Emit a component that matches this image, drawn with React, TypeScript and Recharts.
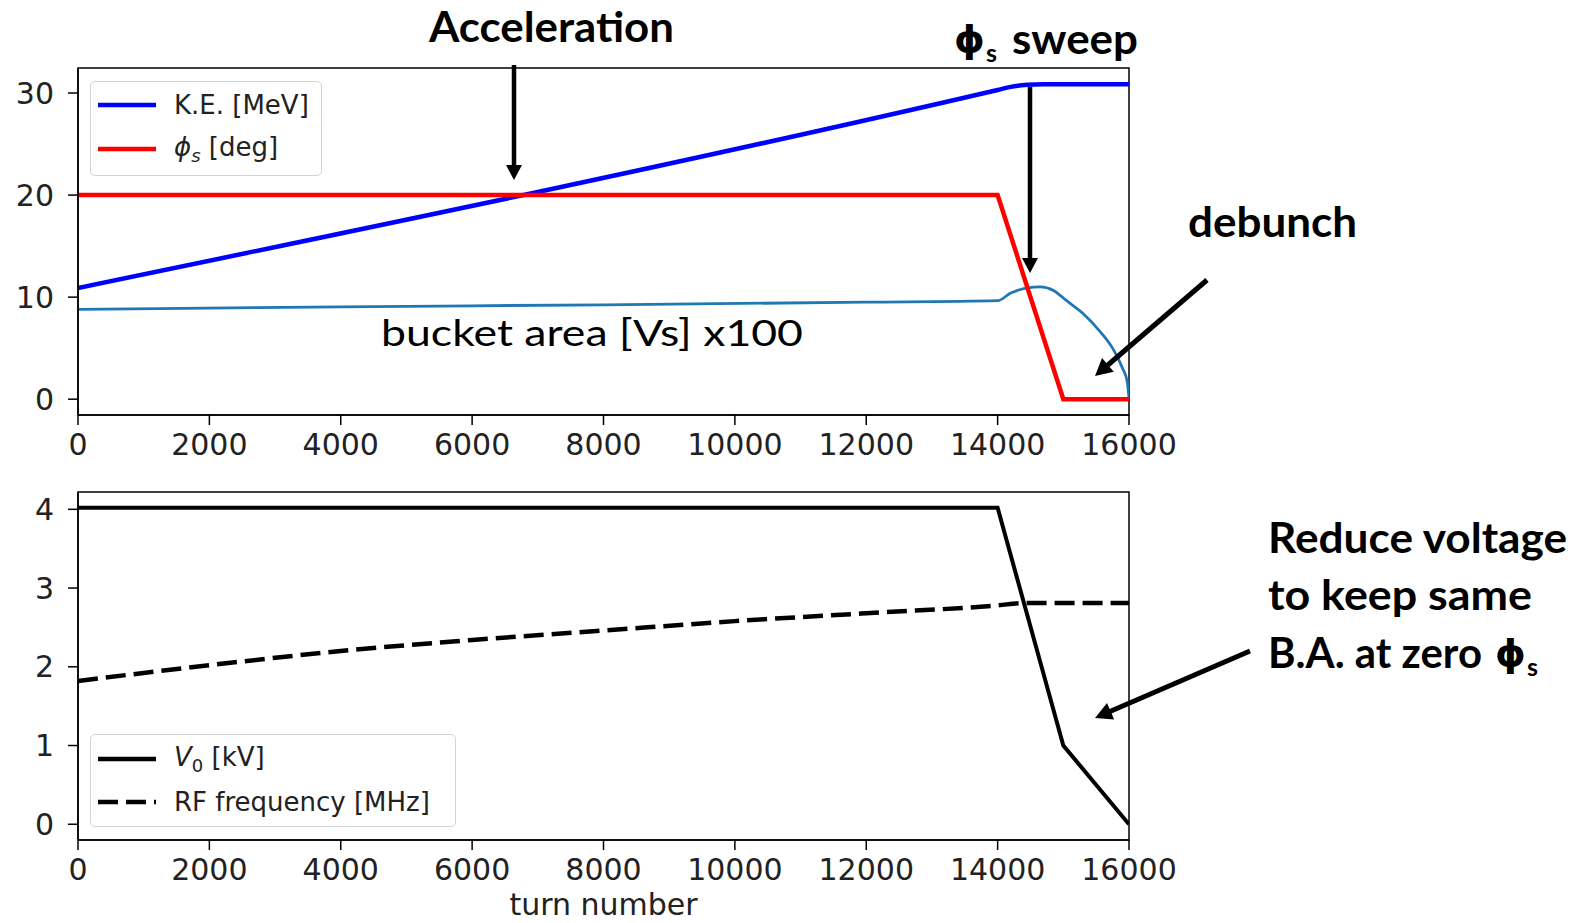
import { LineChart, Line, XAxis, YAxis, ReferenceArea, Legend } from "recharts";

// x axis (turn number)
const turnTicks = [0, 2000, 4000, 6000, 8000, 10000, 12000, 14000, 16000];
const topTicks = [0, 10, 20, 30];
const bottomTicks = [0, 1, 2, 3, 4];

// top panel
const keTurns = [0, 14000, 14200, 14450, 14700, 16000];
const keMeV = [10.9, 30.3, 30.6, 30.8, 30.85, 30.85];

const phiTurns = [0, 14000, 15000, 16000];
const phiDeg = [20, 20, 0, 0];

const bucketTurns = [0, 4000, 8000, 12000, 14000, 14200, 14450, 14650, 14850, 15050, 15300, 15550, 15750, 15900, 15970, 16000];
const bucketArea = [8.8, 9.05, 9.25, 9.5, 9.65, 10.4, 10.9, 11.0, 10.65, 9.65, 8.4, 6.7, 5.0, 3.05, 1.8, 0.1];

// bottom panel
const voltTurns = [0, 14000, 15000, 16000];
const voltKV = [4.02, 4.02, 1.0, 0];

const rfTurns = [0, 2000, 4000, 6000, 8000, 10000, 12000, 14000, 14400, 16000];
const rfMHz = [1.82, 2.02, 2.2, 2.34, 2.46, 2.58, 2.68, 2.78, 2.81, 2.81];

const topDomain: [number, number] = [-1.55, 32.45];
const bottomDomain: [number, number] = [-0.2, 4.22];

const toPoints = (xs: number[], ys: number[]) => xs.map((turn, i) => ({ turn, value: ys[i] }));

const TICK_FONT = { fontSize: 30, fill: "#222", fontFamily: "DejaVu Sans" };
const axisStroke = { stroke: "#000", strokeWidth: 1.5 };

const LegendRow = ({ top, color, dash, children }: any) => (
  <div style={{ position: "absolute", left: 0, top: top - 16, height: 32, display: "flex", alignItems: "center" }}>
    <svg width={70} height={10} style={{ marginLeft: 6 }}>
      <line x1={1} y1={5} x2={59} y2={5} stroke={color} strokeWidth={4.5} strokeDasharray={dash} />
    </svg>
    <span style={{ marginLeft: 7, fontFamily: "DejaVu Sans", fontSize: 26, color: "#222", whiteSpace: "nowrap" }}>
      {children}
    </span>
  </div>
);

const legendBox = (w: number, h: number) => ({
  position: "relative" as const,
  width: w,
  height: h,
  border: "1.5px solid #d3d3d3",
  borderRadius: 5,
  background: "rgba(255,255,255,0.85)",
  boxSizing: "border-box" as const,
});

const TopLegend = () => (
  <div style={legendBox(232, 95)}>
    <LegendRow top={22.6} color="#0000ff">K.E. [MeV]</LegendRow>
    <LegendRow top={66.6} color="#ff0000">
      <i>ϕ<sub style={{ fontSize: 18 }}>s</sub></i> [deg]
    </LegendRow>
  </div>
);

const BottomLegend = () => (
  <div style={legendBox(366, 93)}>
    <LegendRow top={24.3} color="#000">
      <i>V</i>
      <sub style={{ fontSize: 18 }}>0</sub> [kV]
    </LegendRow>
    <LegendRow top={66.7} color="#000" dash="20 8">
      RF frequency [MHz]
    </LegendRow>
  </div>
);

const Arrow = ({ x1, y1, x2, y2, w = 4.5, head = 15, hw = 8 }: any) => {
  const dx = x2 - x1;
  const dy = y2 - y1;
  const len = Math.hypot(dx, dy);
  const ux = dx / len;
  const uy = dy / len;
  const bx = x2 - ux * head;
  const by = y2 - uy * head;
  const nx = -uy;
  const ny = ux;
  return (
    <g>
      <line x1={x1} y1={y1} x2={bx + ux * 2} y2={by + uy * 2} stroke="#000" strokeWidth={w} />
      <polygon points={`${x2},${y2} ${bx + nx * hw},${by + ny * hw} ${bx - nx * hw},${by - ny * hw}`} fill="#000" />
    </g>
  );
};

const boldText = { fontFamily: "Lato", fontWeight: 700, fontSize: 42, fill: "#000" };
const phiText = { fontFamily: "DejaVu Sans", fontWeight: 700, fontSize: 38, fill: "#000" };

const Annotations = () => (
  <svg width={1586} height={923} style={{ position: "absolute", left: 0, top: 0, pointerEvents: "none" }}>
    <text x={429} y={42} {...boldText} textLength={245} lengthAdjust="spacingAndGlyphs">Acceleration</text>
    <Arrow x1={514} y1={65} x2={514} y2={180} />

    <text x={954} y={52} {...phiText} textLength={31} lengthAdjust="spacingAndGlyphs">ϕ</text>
    <text x={986} y={62} {...boldText} fontSize={25}>s</text>
    <text x={1012} y={53.5} {...boldText} textLength={126} lengthAdjust="spacingAndGlyphs">sweep</text>
    <Arrow x1={1030} y1={87} x2={1030} y2={273} />

    <text x={1188} y={237} {...boldText} textLength={169} lengthAdjust="spacingAndGlyphs">debunch</text>
    <Arrow x1={1207} y1={280} x2={1095} y2={376} w={5} head={17} hw={9} />

    <text x={381} y={346} fontFamily="Lato" fontWeight={400} fontSize={37} fill="#000" textLength={422} lengthAdjust="spacingAndGlyphs">
      bucket area [Vs] x100
    </text>

    <text x={1268} y={553} {...boldText} textLength={299} lengthAdjust="spacingAndGlyphs">Reduce voltage</text>
    <text x={1268} y={610} {...boldText} textLength={264} lengthAdjust="spacingAndGlyphs">to keep same</text>
    <text x={1268} y={668} {...boldText} textLength={214} lengthAdjust="spacingAndGlyphs">B.A. at zero</text>
    <text x={1495} y={666} {...phiText} textLength={31} lengthAdjust="spacingAndGlyphs">ϕ</text>
    <text x={1527} y={676} {...boldText} fontSize={25}>s</text>
    <Arrow x1={1250} y1={651} x2={1095} y2={718} w={5} head={17} hw={9} />
  </svg>
);

export default function App() {
  return (
    <div style={{ position: "absolute", left: 0, top: 0, width: 1586, height: 923, background: "#fff" }}>
      <div style={{ position: "absolute", left: 0, top: 0 }}>
        <LineChart width={1200} height={470} margin={{ top: 68, right: 71, bottom: 0, left: 0 }}>
          <XAxis
            type="number"
            dataKey="turn"
            domain={[0, 16000]}
            ticks={turnTicks}
            interval={0}
            height={55}
            tickSize={10}
            tickMargin={9}
            tick={TICK_FONT}
            axisLine={axisStroke}
            tickLine={axisStroke}
            allowDataOverflow
          />
          <YAxis
            type="number"
            domain={topDomain}
            ticks={topTicks}
            width={78}
            tickSize={10}
            tickMargin={14}
            tick={TICK_FONT}
            axisLine={axisStroke}
            tickLine={axisStroke}
            allowDataOverflow
          />
          <ReferenceArea x1={0} x2={16000} y1={topDomain[0]} y2={topDomain[1]} fill="none" fillOpacity={0} stroke="#000" strokeWidth={1.5} />
          <Line data={toPoints(bucketTurns, bucketArea)} dataKey="value" type="monotone" stroke="#1f77b4" strokeWidth={2.8} dot={false} isAnimationActive={false} />
          <Line data={toPoints(keTurns, keMeV)} dataKey="value" type="monotone" stroke="#0000ff" strokeWidth={4.5} dot={false} isAnimationActive={false} />
          <Line data={toPoints(phiTurns, phiDeg)} dataKey="value" type="linear" stroke="#ff0000" strokeWidth={4.5} dot={false} isAnimationActive={false} />
          <Legend
            layout="vertical"
            align="center"
            verticalAlign="middle"
            content={() => <TopLegend />}
            wrapperStyle={{ left: 90, top: 81, width: 232, height: 95 }}
          />
        </LineChart>
      </div>

      <div style={{ position: "absolute", left: 0, top: 430 }}>
        <LineChart width={1200} height={493} margin={{ top: 62, right: 71, bottom: 0, left: 0 }}>
          <XAxis
            type="number"
            dataKey="turn"
            domain={[0, 16000]}
            ticks={turnTicks}
            interval={0}
            height={83}
            tickSize={10}
            tickMargin={9}
            tick={TICK_FONT}
            axisLine={axisStroke}
            tickLine={axisStroke}
            allowDataOverflow
            label={{ value: "turn number", position: "insideBottom", offset: 8, fontSize: 30, fill: "#222", fontFamily: "DejaVu Sans" }}
          />
          <YAxis
            type="number"
            domain={bottomDomain}
            ticks={bottomTicks}
            width={78}
            tickSize={10}
            tickMargin={14}
            tick={TICK_FONT}
            axisLine={axisStroke}
            tickLine={axisStroke}
            allowDataOverflow
          />
          <ReferenceArea x1={0} x2={16000} y1={bottomDomain[0]} y2={bottomDomain[1]} fill="none" fillOpacity={0} stroke="#000" strokeWidth={1.5} />
          <Line data={toPoints(voltTurns, voltKV)} dataKey="value" type="linear" stroke="#000" strokeWidth={4} dot={false} isAnimationActive={false} />
          <Line data={toPoints(rfTurns, rfMHz)} dataKey="value" type="monotone" stroke="#000" strokeWidth={4.5} strokeDasharray="20 8" dot={false} isAnimationActive={false} />
          <Legend
            layout="vertical"
            align="center"
            verticalAlign="middle"
            content={() => <BottomLegend />}
            wrapperStyle={{ left: 90, top: 304, width: 366, height: 93 }}
          />
        </LineChart>
      </div>

      <Annotations />
    </div>
  );
}
